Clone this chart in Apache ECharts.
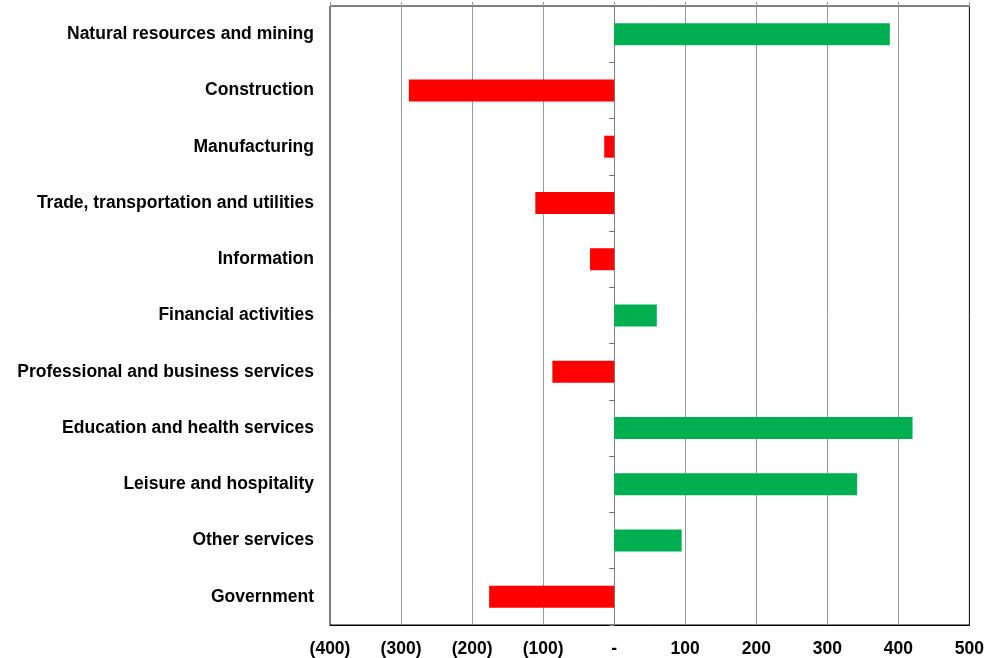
<!DOCTYPE html>
<html>
<head>
<meta charset="utf-8">
<script src="https://cdn.jsdelivr.net/npm/echarts@6/dist/echarts.min.js"></script>
<style>
  html, body { margin: 0; padding: 0; background: #fff; }
  #chart { width: 987px; height: 658px; }
</style>
</head>
<body>
<div id="chart"></div>
<script>
// 行业分类（从上到下）
var categories = [
  "Natural resources and mining",
  "Construction",
  "Manufacturing",
  "Trade, transportation and utilities",
  "Information",
  "Financial activities",
  "Professional and business services",
  "Education and health services",
  "Leisure and hospitality",
  "Other services",
  "Government"
];
// 变化量
var values = [388, -289, -14, -111, -34, 60, -87, 420, 342, 95, -176];

var axisMin = -400;
var axisMax = 500;
var axisStep = 100;

function fmtTick(v) {
  if (v === 0) return "-";
  if (v < 0) return "(" + Math.abs(v) + ")";
  return String(v);
}

var chart = echarts.init(document.getElementById("chart"));
chart.setOption({
  animation: false,
  grid: {
    left: 330,
    right: 15,
    top: 6,
    bottom: 33,
    show: true,
    borderColor: "#000",
    borderWidth: 1
  },
  xAxis: [
    {
      type: "value",
      position: "bottom",
      min: axisMin,
      max: axisMax,
      interval: axisStep,
      axisLine: { show: true, onZero: false, lineStyle: { color: "#000" } },
      axisTick: { show: false },
      axisLabel: {
        formatter: fmtTick,
        color: "#000",
        fontFamily: "Liberation Sans, Arial",
        fontWeight: "bold",
        fontSize: 17.5,
        margin: 15
      },
      splitLine: {
        show: true,
        showMinLine: false,
        showMaxLine: false,
        lineStyle: { color: "#999", width: 1 }
      }
    },
    {
      // 顶部灰色轴线
      type: "value",
      position: "top",
      min: axisMin,
      max: axisMax,
      interval: axisStep,
      axisLine: { show: true, onZero: false, lineStyle: { color: "#808080" } },
      axisTick: { show: true, length: 4, lineStyle: { color: "#999" } },
      axisLabel: { show: false },
      splitLine: { show: false }
    }
  ],
  yAxis: [
    {
      type: "category",
      data: categories,
      inverse: true,
      position: "left",
      axisLine: { show: false, onZero: false },
      axisTick: { show: false },
      axisLabel: {
        color: "#000",
        fontFamily: "Liberation Sans, Arial",
        fontWeight: "bold",
        fontSize: 17.5,
        margin: 16,
        padding: [4, 0, 0, 0]
      }
    },
    {
      // 零线上的刻度
      type: "category",
      data: categories,
      inverse: true,
      position: "left",
      axisLine: { show: true, onZero: true, lineStyle: { color: "#808080" } },
      axisTick: { show: true, length: 5, lineStyle: { color: "#707070" } },
      axisLabel: { show: false }
    }
  ],
  series: [
    {
      type: "bar",
      xAxisIndex: 0,
      yAxisIndex: 0,
      barWidth: 22,
      data: values.map(function (v) {
        return {
          value: v,
          itemStyle: { color: v >= 0 ? "#00b050" : "#ff0000" }
        };
      })
    }
  ]
});
</script>
</body>
</html>
